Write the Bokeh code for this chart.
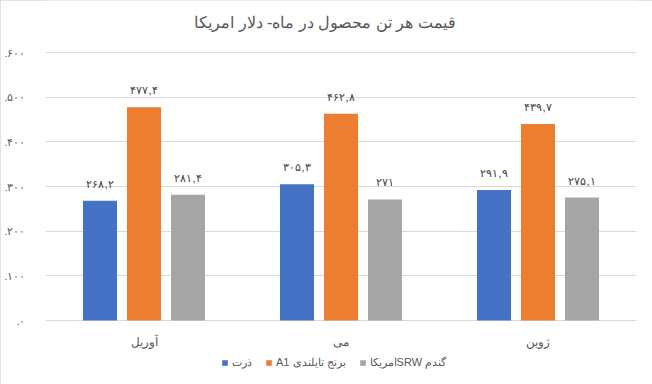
from bokeh.plotting import figure
from bokeh.models import (ColumnDataSource, FactorRange, Range1d, FixedTicker,
                          LabelSet, Legend, LegendItem, Label)
from bokeh.transform import dodge
from bokeh.embed import file_html
from bokeh.resources import INLINE

# ---- data ----
months = ["آوریل", "می", "ژوین"]
corn = [268.2, 305.3, 291.9]          # ذرت
rice = [477.4, 462.8, 439.7]          # برنج تایلندی A1
wheat = [281.4, 271.0, 275.1]         # گندم SRW امریکا
series_names = ["ذرت", "A1 برنج تایلندی", "امریکاSRW گندم"]
title_text = "قیمت هر تن  محصول در ماه- دلار امریکا"
y_ticks = [0, 100, 200, 300, 400, 500, 600]

colors = ["#4472C4", "#ED7D31", "#A5A5A5"]
PERSIAN = str.maketrans("0123456789", "۰۱۲۳۴۵۶۷۸۹")


def fa_num(v):
    s = ("%.1f" % v)
    if s.endswith(".0"):
        s = s[:-2]
    return s.replace(".", ",").translate(PERSIAN)


tick_labels = {t: "." + str(t).translate(PERSIAN) for t in y_ticks}

src = ColumnDataSource(dict(
    month=months, corn=corn, rice=rice, wheat=wheat, base=[0] * len(months),
    corn_lbl=[fa_num(v) for v in corn],
    rice_lbl=[fa_num(v) for v in rice],
    wheat_lbl=[fa_num(v) for v in wheat],
))

# frame spans the full height: y=600 at 52px, y=0 at 320px
W, H = 652, 384
top_px, zero_px = 52, 320
y_max = y_ticks[-1]
px_per_unit = (zero_px - top_px) / float(y_max)
y_start = -(H - zero_px) / px_per_unit
y_end = y_max + top_px / px_per_unit

p = figure(width=W, height=H, x_range=FactorRange(*months, range_padding=0),
           y_range=Range1d(y_start, y_end), output_backend="svg", toolbar_location=None,
           min_border_left=45, min_border_right=16, min_border_top=0, min_border_bottom=0,
           styles={"outline": "1px solid #d9d9d9", "outline-offset": "-1px"})
p.outline_line_color = None
p.background_fill_color = "white"
p.border_fill_color = "white"
p.xaxis.visible = False

bw = 0.1726
off = 0.2234
renderers = []
for key, o, c in zip(["corn", "rice", "wheat"], [-off, 0, off], colors):
    r = p.vbar(x=dodge("month", o, range=p.x_range), top=key, width=bw, source=src,
               fill_color=c, line_color=None)
    renderers.append(r)
    lbl = LabelSet(x=dodge("month", o, range=p.x_range), y=key, text=key + "_lbl", source=src,
                   text_align="center", text_baseline="bottom", y_offset=11,
                   text_font_size="11px", text_color="#404040")
    p.add_layout(lbl)

# category labels under the zero line
cat = LabelSet(x="month", y="base", text="month", source=src, text_align="center",
               text_baseline="middle", y_offset=-21, text_font_size="12px",
               text_color="#595959")
p.add_layout(cat)

p.yaxis.ticker = FixedTicker(ticks=y_ticks)
p.yaxis.major_label_overrides = tick_labels
p.yaxis.axis_line_color = None
p.yaxis.major_tick_line_color = None
p.yaxis.minor_tick_line_color = None
p.yaxis.major_label_standoff = 14
p.yaxis.major_label_text_font_size = "11px"
p.yaxis.major_label_text_color = "#595959"

p.xgrid.grid_line_color = None
p.ygrid.ticker = FixedTicker(ticks=y_ticks)
p.ygrid.grid_line_color = "#d9d9d9"

# chart title, centred on the chart area, 30px above the top gridline
title = Label(x=len(months) / 2.0, y=y_max, x_offset=-14, y_offset=30, text=title_text,
              text_align="center", text_baseline="middle", text_font_size="16px",
              text_color="#595959")
p.add_layout(title)

legend = Legend(items=[LegendItem(label=n, renderers=[r]) for n, r in zip(series_names, renderers)],
                orientation="horizontal", location=(176, 15), padding=0, margin=0,
                spacing=13, label_standoff=4, glyph_width=7, glyph_height=7,
                label_height=12, label_text_font_size="11px", label_text_color="#595959",
                border_line_color=None, background_fill_alpha=0)
p.add_layout(legend, "center")

open("out.html", "w").write(file_html(p, INLINE))
